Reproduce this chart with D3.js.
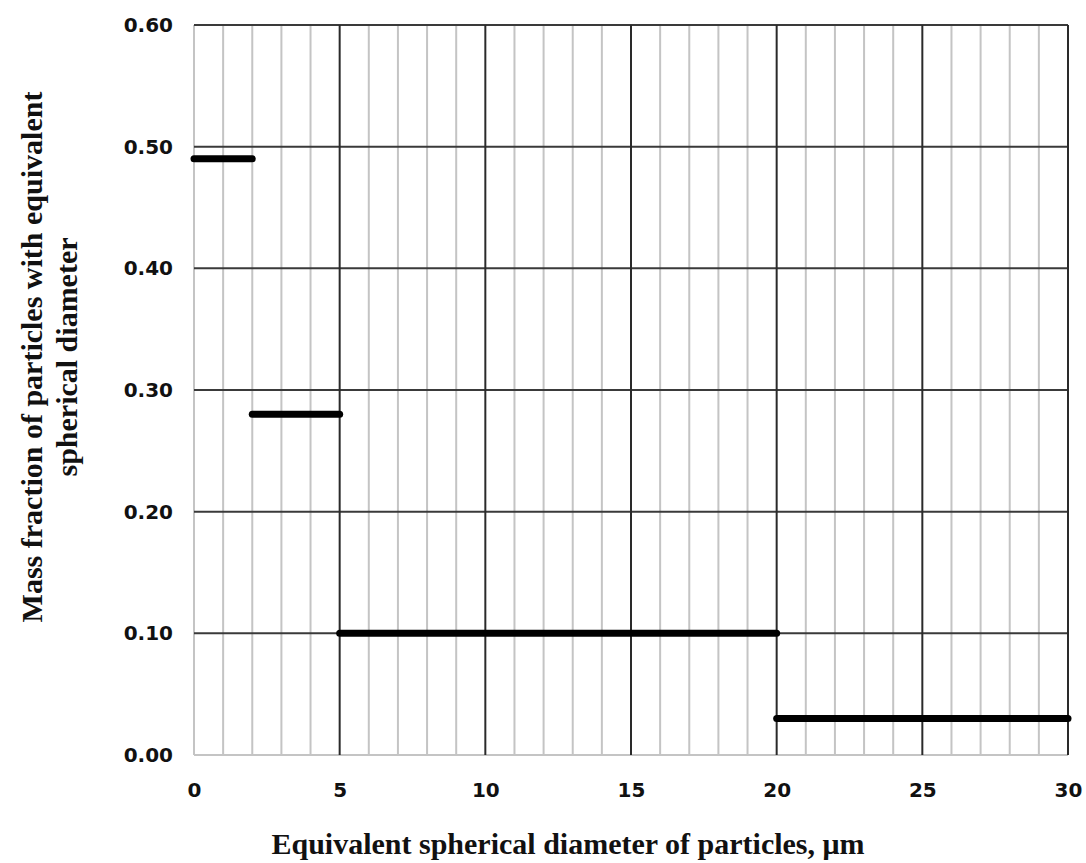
<!DOCTYPE html>
<html>
<head>
<meta charset="utf-8">
<script src="https://cdn.jsdelivr.net/npm/d3@7"></script>
<style>
  body { margin: 0; background: #fff; }
  .tick text { font-family: Tahoma, "DejaVu Sans", sans-serif; }
</style>
</head>
<body>
<div id="chart"></div>
<script>
// size fractions: [from, to] diameter in um and mass fraction
var binStart = [0, 2, 5, 20];
var binEnd = [2, 5, 20, 30];
var massFraction = [0.49, 0.28, 0.10, 0.03];

var xTicks = [0, 5, 10, 15, 20, 25, 30];
var yTicks = [0, 0.1, 0.2, 0.3, 0.4, 0.5, 0.6];

var width = 1086, height = 863;
var margin = {left: 194, right: 18, top: 25, bottom: 108};

var svg = d3.select("#chart").append("svg")
    .attr("width", width)
    .attr("height", height);

var x = d3.scaleLinear().domain([0, 30]).range([margin.left, width - margin.right]);
var y = d3.scaleLinear().domain([0, 0.6]).range([height - margin.bottom, margin.top]);

var grid = svg.append("g");

// minor vertical gridlines every 1 um
grid.selectAll("line.minor")
    .data(d3.range(0, 31).filter(function(d) { return d % 5 != 0 || d == 0; }))
    .enter().append("line")
    .attr("class", "minor")
    .attr("x1", function(d) { return x(d); })
    .attr("x2", function(d) { return x(d); })
    .attr("y1", y(0))
    .attr("y2", y(0.6))
    .attr("stroke", "#c4c4c4")
    .attr("stroke-width", 2);

// bottom axis line (gray)
grid.append("line")
    .attr("x1", x(0)).attr("x2", x(30))
    .attr("y1", y(0)).attr("y2", y(0))
    .attr("stroke", "#c4c4c4")
    .attr("stroke-width", 2);

// horizontal gridlines
grid.selectAll("line.h")
    .data(yTicks.filter(function(d) { return d > 0; }))
    .enter().append("line")
    .attr("class", "h")
    .attr("x1", x(0))
    .attr("x2", x(30))
    .attr("y1", function(d) { return y(d); })
    .attr("y2", function(d) { return y(d); })
    .attr("stroke", "#3a3a3a")
    .attr("stroke-width", 2);

// major vertical gridlines
grid.selectAll("line.major")
    .data(xTicks.filter(function(d) { return d > 0; }))
    .enter().append("line")
    .attr("class", "major")
    .attr("x1", function(d) { return x(d); })
    .attr("x2", function(d) { return x(d); })
    .attr("y1", y(0))
    .attr("y2", y(0.6))
    .attr("stroke", "#2a2a2a")
    .attr("stroke-width", 2);

// axes (labels only)
var xAxis = svg.append("g")
    .attr("transform", "translate(0," + y(0) + ")")
    .call(d3.axisBottom(x).tickValues(xTicks).tickSize(0).tickPadding(28).tickFormat(d3.format("d")));
var yAxis = svg.append("g")
    .attr("transform", "translate(" + x(0) + ",0)")
    .call(d3.axisLeft(y).tickValues(yTicks).tickSize(0).tickPadding(21).tickFormat(d3.format(".2f")));

[xAxis, yAxis].forEach(function(a) {
    a.select(".domain").remove();
    a.selectAll("text")
        .attr("font-size", 20)
        .attr("font-weight", "bold")
        .attr("fill", "#111");
});

// step segments
svg.selectAll("line.seg")
    .data(massFraction)
    .enter().append("line")
    .attr("class", "seg")
    .attr("x1", function(d, i) { return x(binStart[i]); })
    .attr("x2", function(d, i) { return x(binEnd[i]); })
    .attr("y1", function(d) { return y(d); })
    .attr("y2", function(d) { return y(d); })
    .attr("stroke", "#000")
    .attr("stroke-width", 7)
    .attr("stroke-linecap", "round");

// axis titles
svg.append("text")
    .attr("x", 568)
    .attr("y", 854)
    .attr("text-anchor", "middle")
    .attr("font-family", "'Liberation Serif', 'Times New Roman', serif")
    .attr("font-weight", "bold")
    .attr("font-size", 30)
    .attr("fill", "#111")
    .text("Equivalent spherical diameter of particles, μm");

var yTitle = svg.append("text")
    .attr("transform", "translate(0,357) rotate(-90)")
    .attr("text-anchor", "middle")
    .attr("font-family", "'Liberation Serif', 'Times New Roman', serif")
    .attr("font-weight", "bold")
    .attr("font-size", 30)
    .attr("fill", "#111");
yTitle.append("tspan").attr("x", 0).attr("y", 42).text("Mass fraction of particles with equivalent");
yTitle.append("tspan").attr("x", 0).attr("y", 77).text("spherical diameter");
</script>
</body>
</html>
